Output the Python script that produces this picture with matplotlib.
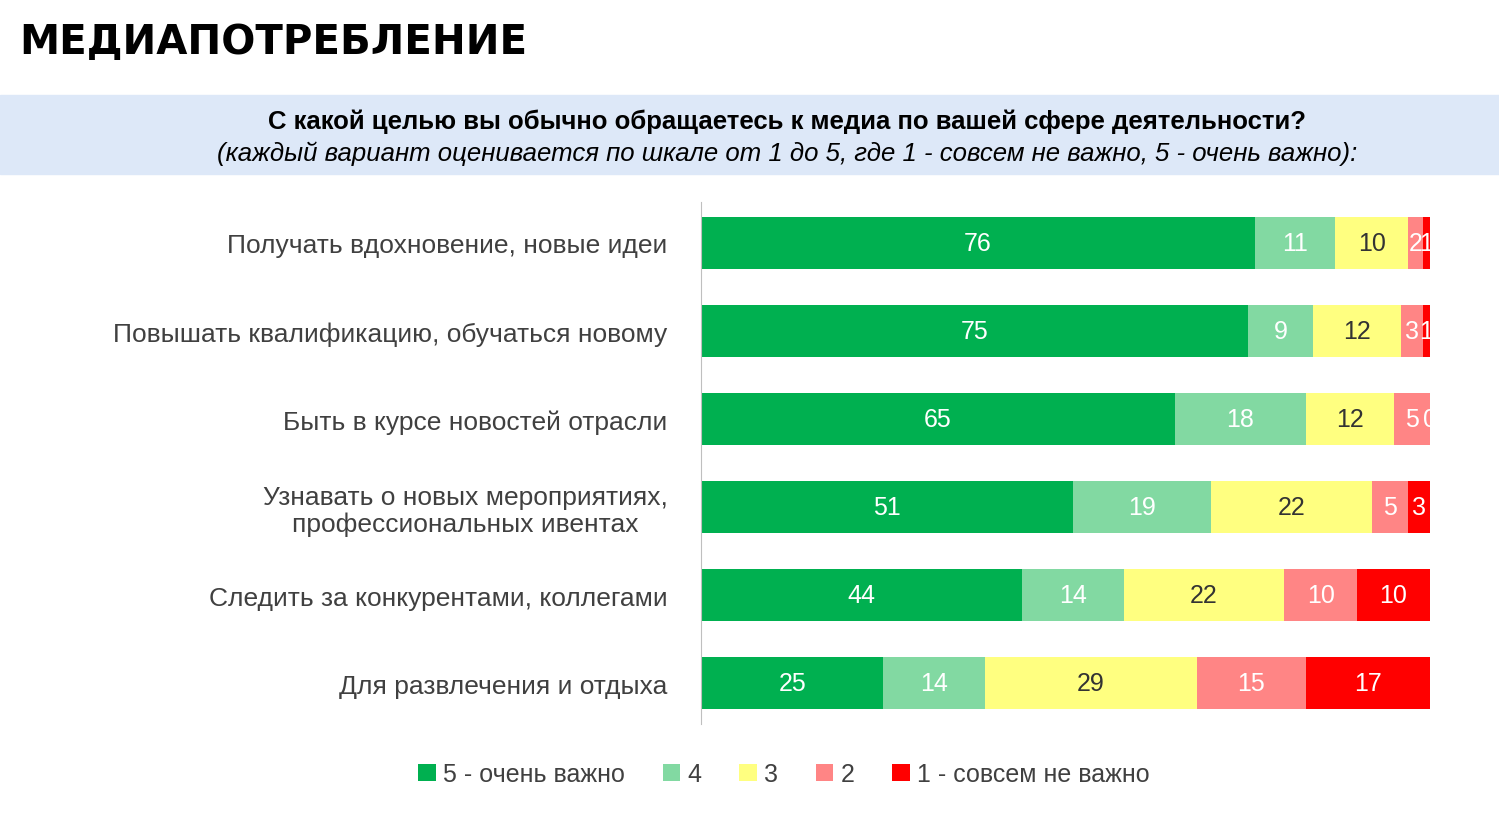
import matplotlib.pyplot as plt
from matplotlib.patches import Rectangle
import numpy as np

categories = ['Получать вдохновение, новые идеи',
              'Повышать квалификацию, обучаться новому',
              'Быть в курсе новостей отрасли',
              'Узнавать о новых мероприятиях,\nпрофессиональных ивентах',
              'Следить за конкурентами, коллегами',
              'Для развлечения и отдыха']
series_names = ['5 - очень важно', '4', '3', '2', '1 - совсем не важно']
v5 = [76, 75, 65, 51, 44, 25]
v4 = [11, 9, 18, 19, 14, 14]
v3 = [10, 12, 12, 22, 22, 29]
v2 = [2, 3, 5, 5, 10, 15]
v1 = [1, 1, 0, 3, 10, 17]
colors = ['#00B050', '#82D9A2', '#FFFF80', '#FF8585', '#FF0000']
text_colors = ['white', 'white', '#333333', 'white', 'white']

plt.rcParams['font.family'] = ['Liberation Sans', 'DejaVu Sans']
fig = plt.figure(figsize=(14.99, 8.2), dpi=100)
fig.text(0.013, 0.947, 'МЕДИАПОТРЕБЛЕНИЕ', fontsize=29, fontweight='bold',
         family=['DejaVu Sans'], va='center')
fig.patches.append(Rectangle((0, 1 - 175 / 820), 1, 79 / 820, transform=fig.transFigure,
                             color='#DDE8F8', zorder=0))
fig.text(0.525, 1 - 122 / 820, 'С какой целью вы обычно обращаетесь к медиа по вашей сфере деятельности?',
         ha='center', va='center', fontsize=18.5, fontweight='bold')
fig.text(0.525, 1 - 154 / 820, '(каждый вариант оценивается по шкале от 1 до 5, где 1 - совсем не важно, 5 - очень важно):',
         ha='center', va='center', fontsize=18.5, style='italic')

ax = fig.add_axes([701 / 1499, 1 - 725 / 820, 729 / 1499, 522 / 820])
y = np.arange(len(categories))
left = np.zeros(len(categories))
for vals, name, c, tc in zip([v5, v4, v3, v2, v1], series_names, colors, text_colors):
    vals = np.array(vals)
    ax.barh(y, vals, left=left, height=0.59, color=c, label=name)
    for yi, (l, v) in enumerate(zip(left, vals)):
        ax.text(l + v / 2, yi, str(v), ha='center', va='center', color=tc,
                fontsize=18, clip_on=True)
    left += vals
ax.set_xlim(0, 100)
ax.set_ylim(len(categories) - 0.535, -0.465)
ax.set_yticks(y)
ax.set_yticklabels(categories, fontsize=19, color='#404040', linespacing=1.1)
ax.tick_params(axis='y', length=0, pad=24)
ax.set_xticks([])
for s in ['top', 'right', 'bottom']:
    ax.spines[s].set_visible(False)
ax.spines['left'].set_color('#BFBFBF')
for lbl in ax.get_yticklabels():
    lbl.set_horizontalalignment('right')
    lbl.set_multialignment('center')

fig.legend(loc='center', bbox_to_anchor=(0.523, 1 - 775 / 820), ncol=5, frameon=False,
           fontsize=18, handlelength=0.7, handleheight=0.7, handletextpad=0.3,
           columnspacing=1.5, labelcolor='#404040')
fig.savefig('out.png', dpi=100)
